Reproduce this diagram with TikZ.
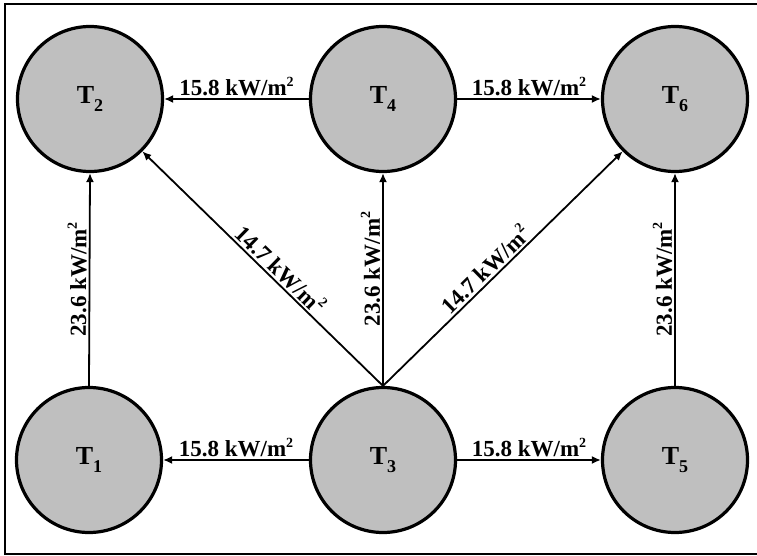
\documentclass[tikz,border=0pt]{standalone}
\usepackage{fontspec}
\setmainfont{Liberation Serif}
\usetikzlibrary{arrows.meta}
\newcommand{\sub}[1]{\raisebox{-0.28em}{\fontsize{18}{18}\selectfont #1}}
\newcommand{\msq}{m\raisebox{0.42em}{\fontsize{14}{14}\selectfont 2}}
\tikzset{
  tank/.style={circle, draw=black, line width=3.2pt, fill=black!25, minimum size=145pt, inner sep=0pt,
     font=\fontsize{26}{26}\selectfont\bfseries},
  flow/.style={line width=1.8pt, -{Latex[length=9pt,width=8pt]}},
  lbl/.style={font=\fontsize{23}{23}\selectfont\bfseries, inner sep=2pt},
}
\begin{document}
\begin{tikzpicture}[x=1pt,y=-1pt]
\useasboundingbox (0,0) rectangle (757,556);
\draw[line width=2pt] (5,4) rectangle (765,554);
\node[tank] (T2) at (90,99) {T\sub{2}};
\node[tank] (T4) at (383,99) {T\sub{4}};
\node[tank] (T6) at (675,99) {T\sub{6}};
\node[tank] (T1) at (89,460) {T\sub{1}};
\node[tank] (T3) at (383,460) {T\sub{3}};
\node[tank] (T5) at (675,460) {T\sub{5}};
\draw[flow] (T4.west) -- node[lbl, above] {15.8 kW/\msq} (T2.east);
\draw[flow] (T4.east) -- node[lbl, above] {15.8 kW/\msq} (T6.west);
\draw[flow] (T3.west) -- node[lbl, above] {15.8 kW/\msq} (T1.east);
\draw[flow] (T3.east) -- node[lbl, above] {15.8 kW/\msq} (T5.west);
\draw[flow] (T1.north) -- node[lbl, sloped, above] {23.6 kW/\msq} (T2.south);
\draw[flow] (T3.north) -- node[lbl, sloped, above, pos=0.55] {23.6 kW/\msq} (T4.south);
\draw[flow] (T5.north) -- node[lbl, sloped, above] {23.6 kW/\msq} (T6.south);
\draw[flow] (T3.north) -- node[lbl, sloped, above, pos=0.46] {14.7 kW/\msq} (T2.-45);
\draw[flow] (T3.north) -- node[lbl, sloped, above, pos=0.46] {14.7 kW/\msq} (T6.-135);
\end{tikzpicture}
\end{document}
